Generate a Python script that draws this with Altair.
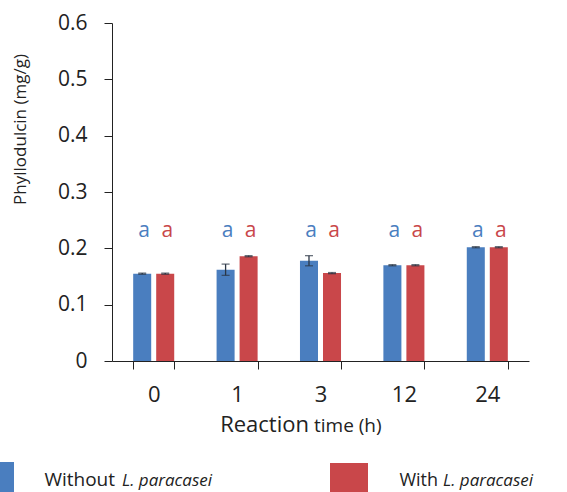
import altair as alt
import pandas as pd

# Phyllodulcin content over reaction time, with and without L. paracasei
times = ["0", "1", "3", "12", "24"]
series = ["Without L. paracasei", "With L. paracasei"]
without_vals = [0.155, 0.162, 0.178, 0.170, 0.202]
with_vals = [0.155, 0.186, 0.156, 0.170, 0.202]
without_err = [0.001, 0.010, 0.009, 0.001, 0.001]
with_err = [0.001, 0.001, 0.001, 0.001, 0.001]
letters_without = ["a", "a", "a", "a", "a"]
letters_with = ["a", "a", "a", "a", "a"]
letter_level = 0.230

bar_colors = ["#4a7ebf", "#c9474a"]
letter_colors = ["#5a85c2", "#c8545b"]

rows = []
for i, t in enumerate(times):
    rows.append(dict(time=t, series=series[0], value=without_vals[i],
                     err=without_err[i], letter=letters_without[i]))
    rows.append(dict(time=t, series=series[1], value=with_vals[i],
                     err=with_err[i], letter=letters_with[i]))
df = pd.DataFrame(rows)
df["lo"] = df["value"] - df["err"]
df["hi"] = df["value"] + df["err"]
df["label_y"] = letter_level

FONT = "Open Sans"
INK = "#222222"
W, H = 417, 338

x = alt.X(
    "time:N", sort=times,
    scale=alt.Scale(paddingInner=0.508, paddingOuter=0.254),
    axis=alt.Axis(title=None, labelAngle=0, labelFont=FONT, labelFontSize=22,
                  labelColor=INK, labelPadding=15, tickBand="extent",
                  tickSize=8, tickColor=INK, domainColor=INK, grid=False),
)
xoff = alt.XOffset("series:N", sort=series,
                   scale=alt.Scale(paddingInner=0.217, paddingOuter=0))
y_scale = alt.Scale(domain=[0, 0.6])
y_axis = alt.Axis(values=[0, 0.1, 0.2, 0.3, 0.4, 0.5, 0.6], format=".1~f",
                  labelFont=FONT, labelFontSize=21, labelColor=INK,
                  labelPadding=17, tickSize=8, tickColor=INK, domainColor=INK,
                  grid=False, title="Phyllodulcin (mg/g)", titleFont=FONT,
                  titleFontSize=17, titleFontWeight="normal", titleColor=INK,
                  titleX=-92, titleY=106, titleAngle=-90, titleAlign="center",
                  titleBaseline="middle")
color = alt.Color("series:N", sort=series,
                  scale=alt.Scale(domain=series, range=bar_colors), legend=None)

base = alt.Chart(df)

bars = base.mark_bar().encode(
    x=x, xOffset=xoff, y=alt.Y("value:Q", scale=y_scale, axis=y_axis), color=color
)
err_rule = base.mark_rule(color="#2b3645", strokeWidth=1.3).encode(
    x=alt.X("time:N", sort=times), xOffset=xoff,
    y=alt.Y("lo:Q", scale=y_scale), y2="hi:Q"
)
cap_hi = base.mark_tick(color="#2b3645", size=8, thickness=1.3).encode(
    x=alt.X("time:N", sort=times), xOffset=xoff, y=alt.Y("hi:Q", scale=y_scale)
)
cap_lo = base.mark_tick(color="#2b3645", size=8, thickness=1.3).encode(
    x=alt.X("time:N", sort=times), xOffset=xoff, y=alt.Y("lo:Q", scale=y_scale)
)
letters = base.mark_text(font=FONT, fontSize=21, dx=2, baseline="middle").encode(
    x=alt.X("time:N", sort=times), xOffset=xoff,
    y=alt.Y("label_y:Q", scale=y_scale), text="letter:N",
    color=alt.Color("series:N", sort=series,
                    scale=alt.Scale(domain=series, range=letter_colors), legend=None),
)

one = pd.DataFrame({"k": [1]})


def label(text, px, py, size, align="left", style="normal", baseline="alphabetic"):
    return alt.Chart(one).mark_text(
        text=text, font=FONT, fontSize=size, fontStyle=style, align=align,
        baseline=baseline, color=INK
    ).encode(x=alt.value(px), y=alt.value(py))


def swatch(x0, x1, y0, y1, fill):
    return alt.Chart(one).mark_rect(color=fill).encode(
        x=alt.value(x0), x2=alt.value(x1), y=alt.value(y0), y2=alt.value(y1)
    )


# x-axis title with mixed sizes
x_title = label("Reaction", 197, 409, 22, align="right") + label("time (h)", 202, 409, 19)

# legend row below the chart
legend = (
    swatch(-136, -98, 439, 480, bar_colors[0])
    + label("Without", 3, 463, 19, align="right")
    + label("L. paracasei", 10, 463, 17, style="italic")
    + swatch(218, 256, 440, 480, bar_colors[1])
    + label("With", 326, 463, 18, align="right")
    + label("L. paracasei", 331, 463, 17, style="italic")
)

chart = (
    alt.layer(bars, err_rule, cap_lo, cap_hi, letters, x_title, legend)
    .properties(width=W, height=H, autosize="none",
                padding={"left": 112, "top": 23, "right": 38, "bottom": 131},
                background="white")
    .configure_view(stroke=None)
)

chart.save("out.html", embed_options={"renderer": "svg", "actions": False})
